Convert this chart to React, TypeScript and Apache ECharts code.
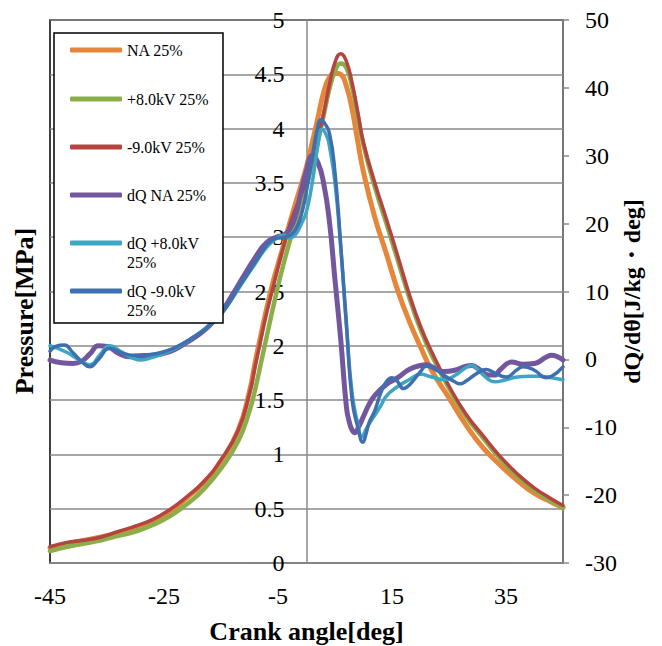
import React, { useEffect, useRef } from "react";
import * as echarts from "echarts";

// Cylinder pressure [MPa] against crank angle [deg]
const pressureAngle = [
  -45, -42, -39, -36, -33, -30, -27, -24, -21, -18, -15, -12, -10, -9, -8, -7, -6, -5, -4, -3, -2, -1,
  0, 1, 2, 3, 4, 5, 6, 7, 8, 9, 10, 12, 14, 16, 18, 20, 22, 25, 28, 31, 34, 37, 40, 43, 45,
];
const pressureNA = [
  0.14, 0.18, 0.21, 0.24, 0.28, 0.33, 0.39, 0.47, 0.6, 0.74, 0.94, 1.22, 1.58, 1.85, 2.1, 2.34, 2.56, 2.75, 2.93, 3.12, 3.3, 3.47,
  3.65, 3.87, 4.1, 4.33, 4.47, 4.51, 4.5, 4.39, 4.18, 3.88, 3.6, 3.18, 2.85, 2.51, 2.23, 1.99, 1.77, 1.52, 1.27, 1.06, 0.9, 0.76, 0.64, 0.56, 0.51,
];
const pressurePlus8 = [
  0.11, 0.15, 0.18, 0.21, 0.25, 0.29, 0.35, 0.43, 0.54, 0.68, 0.87, 1.12, 1.4, 1.6, 1.84, 2.08, 2.32, 2.55, 2.76, 2.95, 3.13, 3.3,
  3.48, 3.67, 3.88, 4.12, 4.36, 4.53, 4.6, 4.56, 4.38, 4.12, 3.85, 3.46, 3.13, 2.79, 2.45, 2.15, 1.91, 1.61, 1.35, 1.15, 0.96, 0.8, 0.67, 0.57, 0.51,
];
const pressureMinus9 = [
  0.15, 0.19, 0.21, 0.24, 0.29, 0.34, 0.4, 0.49, 0.61, 0.75, 0.95, 1.22, 1.56, 1.81, 2.06, 2.3, 2.51, 2.72, 2.92, 3.1, 3.25, 3.38,
  3.52, 3.7, 3.9, 4.14, 4.4, 4.61, 4.69, 4.62, 4.42, 4.15, 3.87, 3.5, 3.17, 2.83, 2.48, 2.18, 1.94, 1.63, 1.37, 1.17, 0.98, 0.82, 0.69, 0.59, 0.53,
];

// Heat release rate dQ/dθ [J/kg・deg]
const dqNaAngle = [
  -45, -43, -41, -39.5, -38, -36.5, -35, -33, -31, -29, -27, -25, -23, -21, -19, -17, -15, -13, -11, -9, -7, -5, -4, -3, -2, -1,
  0, 1, 2, 3, 4, 5, 6, 7, 7.5, 8, 8.5, 9, 10, 11, 12, 14, 16, 18, 20, 21, 22, 24, 26, 28, 29, 30, 32, 33, 34, 36, 38, 40, 42, 43, 44, 45,
];
const dqNa = [
  -0.1, -0.5, -0.6, -0.3, 0.8, 2.0, 1.9, 0.9, 0.4, 0.4, 0.6, 0.9, 1.5, 2.5, 3.6, 5.0, 6.9, 9.5, 12.3, 15.0, 17.2, 18.1, 18.3, 19.1, 21.0, 24.5,
  27.8, 30.0, 29.0, 26.0, 20.5, 11.7, 3.0, -7.0, -9.2, -10.4, -10.8, -10.2, -8.4, -6.6, -5.3, -3.7, -2.7, -1.5, -0.9, -0.8, -1.1, -1.8, -1.6, -1.0, -0.9, -1.3, -2.3, -2.3, -1.5, -0.4, -0.7, -0.6, 0.3, 0.6, 0.4, -0.1,
];
const dqPlus8Angle = [
  -45, -43.5, -42, -40, -38, -36.3, -34.5, -32.5, -30.5, -29, -27, -25, -23, -21, -19, -17, -15, -13, -11, -9, -7, -5, -4, -3, -2, -1,
  0, 1, 2, 2.7, 3.5, 4, 5, 6, 7, 8, 9, 9.7, 10.5, 11, 12, 13, 14, 16, 18, 20, 22, 24, 26, 28, 29, 30, 32, 33, 35, 37, 39, 41, 43, 45,
];
const dqPlus8 = [
  2.0, 1.6, 1.0, 0.0, -0.8, 0.6, 2.0, 1.1, 0.2, -0.1, 0.3, 0.9, 1.6, 2.6, 3.8, 5.0, 6.6, 9.0, 11.6, 14.1, 16.5, 18.0, 18.3, 17.9, 18.3, 19.8,
  21.8, 26.0, 31.5, 33.9, 33.0, 31.5, 26.0, 16.5, 5.0, -5.0, -9.5, -11.4, -10.2, -9.5, -8.2, -6.9, -5.4, -4.0, -3.0, -2.2, -2.6, -3.0, -2.4, -1.2, -0.9, -1.5, -3.0, -3.3, -3.0, -2.6, -2.5, -2.5, -2.7, -3.0,
];
const dqMinus9Angle = [
  -45, -44, -42.5, -41, -39.5, -38, -36.5, -34.5, -32.5, -30.5, -28, -26, -24, -22, -20, -18, -16, -14, -12, -10, -8, -6, -4, -3, -2, -1,
  0, 1, 2, 2.5, 3, 4, 5, 6, 7, 8, 9, 9.9, 10.5, 11, 12, 13, 14, 15, 16, 17, 18, 20, 21, 22, 24, 26, 27, 28, 30, 31.5, 33, 35, 37, 38, 40, 42, 43, 45,
];
const dqMinus9 = [
  1.2, 1.9, 2.1, 1.0, -0.3, -1.1, 0.0, 1.6, 1.0, 0.6, 0.7, 0.9, 1.4, 2.2, 3.2, 4.3, 5.8, 7.8, 10.5, 13.0, 15.6, 17.6, 18.0, 18.2, 19.0, 21.0,
  24.8, 29.8, 34.4, 35.3, 35.0, 33.4, 27.5, 16.9, 5.3, -6.0, -10.0, -12.2, -10.8, -9.3, -7.5, -5.0, -3.3, -2.7, -3.3, -4.3, -3.8, -1.8, -1.0, -1.1, -2.3, -3.3, -3.6, -3.2, -2.0, -1.5, -2.0, -2.6, -1.5, -1.1, -1.6, -2.7, -2.5, -1.1,
];

const SERIF = '"Liberation Serif", "Times New Roman", serif';
const GRID_GRAY = "#8a8a8a";

const zip = (xs: number[], ys: number[]) => xs.map((x, i) => [x, ys[i]]);

type SeriesDef = {
  name: string;
  axis: number;
  angle: number[];
  values: number[];
  color: string;
  width: number;
  legendY: number;
  wrap: boolean;
};

const seriesDefs: SeriesDef[] = [
  { name: "NA 25%", axis: 0, angle: pressureAngle, values: pressureNA, color: "#E5863A", width: 5, legendY: 50, wrap: false },
  { name: "+8.0kV 25%", axis: 0, angle: pressureAngle, values: pressurePlus8, color: "#8AAF4A", width: 4.5, legendY: 99, wrap: false },
  { name: "-9.0kV 25%", axis: 0, angle: pressureAngle, values: pressureMinus9, color: "#B4443F", width: 3.5, legendY: 147, wrap: false },
  { name: "dQ NA 25%", axis: 1, angle: dqNaAngle, values: dqNa, color: "#72579E", width: 5, legendY: 195, wrap: false },
  { name: "dQ +8.0kV 25%", axis: 1, angle: dqPlus8Angle, values: dqPlus8, color: "#3DA6C2", width: 3.5, legendY: 243, wrap: true },
  { name: "dQ -9.0kV 25%", axis: 1, angle: dqMinus9Angle, values: dqMinus9, color: "#3E70AF", width: 3.5, legendY: 291, wrap: true },
];

// plot area geometry
const GRID_LEFT = 50;
const GRID_RIGHT = 99;
const CHART_W = 662;
const CHART_H = 646;
const X_MIN = -45;
const X_MAX = 45;

export default function App() {
  const ref = useRef<HTMLDivElement>(null);

  useEffect(() => {
    if (!ref.current) return;
    const chart = echarts.init(ref.current, undefined, { renderer: "svg" });
    const LINE_H = 19;
    const plotW = CHART_W - GRID_LEFT - GRID_RIGHT;
    // the pressure axis crosses the angle axis at 0 deg
    const zeroOffset = ((0 - X_MIN) / (X_MAX - X_MIN)) * plotW;
    const titleFont = `bold 26px ${SERIF}`;

    chart.setOption({
      animation: false,
      backgroundColor: "#ffffff",
      grid: {
        left: GRID_LEFT,
        top: 20,
        right: GRID_RIGHT,
        bottom: 83,
        show: true,
        borderColor: "#000000",
        borderWidth: 1.5,
        backgroundColor: "transparent",
      },
      xAxis: {
        type: "value",
        min: X_MIN,
        max: X_MAX,
        interval: 20,
        axisLine: { onZero: false, lineStyle: { color: GRID_GRAY, width: 1.5 } },
        axisTick: { show: false },
        splitLine: { show: false },
        axisLabel: {
          showMaxLabel: false,
          margin: 21,
          color: "#000",
          fontFamily: SERIF,
          fontSize: 24,
        },
      },
      yAxis: [
        {
          type: "value",
          position: "left",
          offset: -zeroOffset,
          min: 0,
          max: 5,
          interval: 0.5,
          axisLine: { show: true, onZero: false, lineStyle: { color: GRID_GRAY, width: 1.5 } },
          axisTick: { show: false },
          splitLine: { show: true, lineStyle: { color: GRID_GRAY, width: 1.5 } },
          axisLabel: {
            margin: 22,
            color: "#000",
            fontFamily: SERIF,
            fontSize: 24,
          },
        },
        {
          type: "value",
          position: "right",
          min: -30,
          max: 50,
          interval: 10,
          axisLine: { show: true, onZero: false, lineStyle: { color: GRID_GRAY, width: 1.5 } },
          axisTick: { show: true, inside: false, length: 6, lineStyle: { color: GRID_GRAY, width: 1.5 } },
          splitLine: { show: false },
          axisLabel: {
            margin: 22,
            color: "#000",
            fontFamily: SERIF,
            fontSize: 24,
          },
          name: "dQ/dθ[J/kg・deg]",
          nameLocation: "middle",
          nameGap: 57,
          nameMoveOverlap: false,
          nameTextStyle: { color: "#000", fontFamily: SERIF, fontSize: 24, fontWeight: "bold" },
        },
      ],
      legend: seriesDefs.map((s) => ({
        data: [s.name],
        orient: "vertical",
        left: 70,
        top: s.wrap ? s.legendY - LINE_H * 1.5 : s.legendY - LINE_H / 2,
        padding: 0,
        itemWidth: 52,
        itemHeight: 5,
        icon: "roundRect",
        selectedMode: false,
        z: 20,
        // wrapped entries: an empty first line keeps the name's first line level with the swatch
        formatter: s.wrap ? (n: string) => " \n" + n.replace(" 25%", "\n25%") : undefined,
        textStyle: {
          color: "#000",
          fontFamily: SERIF,
          fontSize: 16,
          lineHeight: LINE_H,
        },
      })),
      graphic: [
        {
          type: "rect",
          z: 10,
          shape: { x: 54, y: 33, width: 169, height: 290 },
          style: { fill: "#ffffff", stroke: "#000000", lineWidth: 1.5 },
        },
        {
          type: "text",
          x: 24,
          y: 311,
          rotation: Math.PI / 2,
          style: {
            text: "Pressure[MPa]",
            fill: "#000",
            font: titleFont,
            align: "center",
            verticalAlign: "middle",
          },
        },
        {
          type: "text",
          x: GRID_LEFT + plotW / 2,
          y: 631,
          style: {
            text: "Crank angle[deg]",
            fill: "#000",
            font: titleFont,
            align: "center",
            verticalAlign: "middle",
          },
        },
      ],
      series: seriesDefs.map((s) => ({
        name: s.name,
        type: "line",
        yAxisIndex: s.axis,
        data: zip(s.angle, s.values),
        showSymbol: false,
        symbol: "none",
        smooth: 0.5,
        color: s.color,
        itemStyle: { color: s.color },
        lineStyle: { color: s.color, width: s.width, cap: "round", join: "round" },
      })),
    });

    return () => chart.dispose();
  }, []);

  return (
    <div
      ref={ref}
      style={{ position: "absolute", left: 0, top: 0, width: CHART_W, height: CHART_H }}
    />
  );
}
